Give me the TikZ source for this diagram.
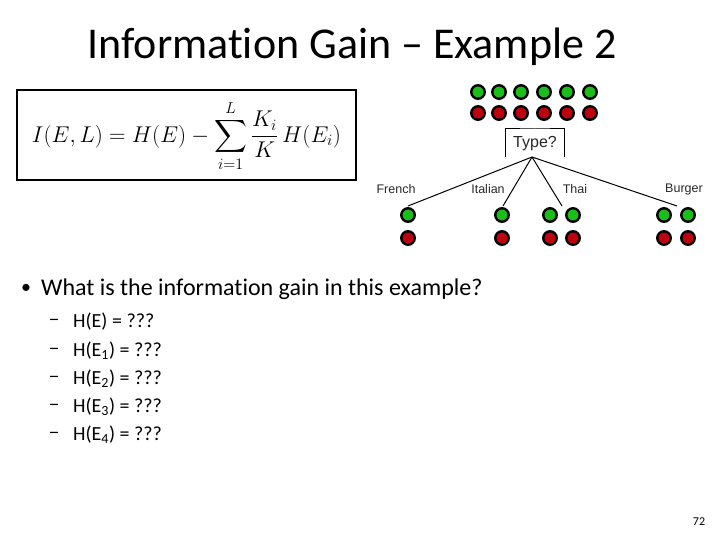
\documentclass[tikz,border=0pt]{standalone}
\usepackage{fontspec}
\setmainfont[Ligatures=NoCommon]{Carlito}
\newfontfamily\arialf{Liberation Sans}
\usepackage{amsmath}
\definecolor{ballgreen}{RGB}{25,190,25}
\definecolor{ballred}{RGB}{190,0,15}
\definecolor{lblgray}{RGB}{40,40,40}
\tikzset{
  gball/.style={circle,draw=black,line width=2.4pt,fill=ballgreen,minimum size=13.5pt,inner sep=0pt},
  rball/.style={circle,draw=black,line width=2.4pt,fill=ballred,minimum size=13.5pt,inner sep=0pt},
  branchlbl/.style={font=\arialf\fontsize{12.5}{14}\selectfont,text=lblgray,inner sep=0pt},
  edge/.style={line width=1pt,black},
  subitem/.style={anchor=west,font=\fontsize{20}{24}\selectfont,inner sep=0pt},
  dashitem/.style={anchor=west,font=\fontsize{20}{24}\selectfont,inner sep=0pt}
}
\begin{document}
\begin{tikzpicture}[x=1pt,y=-1pt]
\useasboundingbox (0,0) rectangle (720,540);
% title
\node[font=\fontsize{44}{50}\selectfont,inner sep=0pt] (title) at (352,47) {Information Gain -- Example 2};
% formula box
\node[draw=black,line width=2pt,minimum width=339pt,minimum height=90pt,inner sep=0pt] (fbox) at (186.5,135) {};
\node[inner sep=0pt,font=\fontsize{20}{24}\selectfont,scale=1.1,transform shape] (formula) at (186.5,136)
  {$I(E,L)=H(E)-\displaystyle\sum_{i=1}^{L}\frac{K_i}{K}\,H(E_i)$};
% top balls
\foreach \i/\x in {1/478,2/499,3/521,4/544,5/567,6/590}{
  \node[gball] (tg\i) at (\x,92) {};
  \node[rball] (tr\i) at (\x,113) {};
}
% Type? box (open bottom)
\coordinate (tbl) at (505,157);
\coordinate (tbr) at (564,157);
\draw[line width=1pt] (tbl) |- (535,129) -| (tbr);
\node[font=\arialf\fontsize{16}{18}\selectfont,text=lblgray,inner sep=0pt] (type) at (535,144) {Type?};
\coordinate (root) at (532,157);
% branch ends
\coordinate (eF) at (408,206);
\coordinate (eI) at (503,206);
\coordinate (eT) at (562,206);
\coordinate (eB) at (677,206);
\draw[edge] (root) -- (eF);
\draw[edge] (root) -- (eI);
\draw[edge] (root) -- (eT);
\draw[edge] (root) -- (eB);
% labels
\node[branchlbl] (lF) at (396,189) {French};
\node[branchlbl] (lI) at (488,189) {Italian};
\node[branchlbl] (lT) at (575,189) {Thai};
\node[branchlbl] (lB) at (684,189) {Burger};
% leaf balls
\node[gball] (fg1) at (408,215) {};
\node[rball] (fr1) at (408,238) {};
\node[gball] (ig1) at (502,215) {};
\node[rball] (ir1) at (502,238) {};
\node[gball] (thg1) at (550,215) {};
\node[gball] (thg2) at (573,215) {};
\node[rball] (thr1) at (550,238) {};
\node[rball] (thr2) at (573,238) {};
\node[gball] (bg1) at (664,215) {};
\node[gball] (bg2) at (688,215) {};
\node[rball] (br1) at (664,238) {};
\node[rball] (br2) at (688,238) {};
% bullet
\node[inner sep=0pt] (bul) at (26,289) {\fontsize{20}{24}\selectfont\textbullet};
\node[anchor=west,inner sep=0pt,font=\fontsize{24}{28}\selectfont] (q) at (41,289) {What is the information gain in this example?};
% sub items
\foreach \k/\y/\t in {0/322/{H(E) = ???},1/351/{H(E\textsubscript{1}) = ???},2/379/{H(E\textsubscript{2}) = ???},3/407/{H(E\textsubscript{3}) = ???},4/435/{H(E\textsubscript{4}) = ???}}{
  \node[dashitem] (d\k) at (48.5,\y) {\scalebox{1.1}[1]{--}};
  \node[subitem] (s\k) at (73,\y) {\t};
}
% page number
\node[inner sep=0pt,font=\fontsize{12}{14}\selectfont] (pg) at (699,522) {72};
\end{tikzpicture}
\end{document}
